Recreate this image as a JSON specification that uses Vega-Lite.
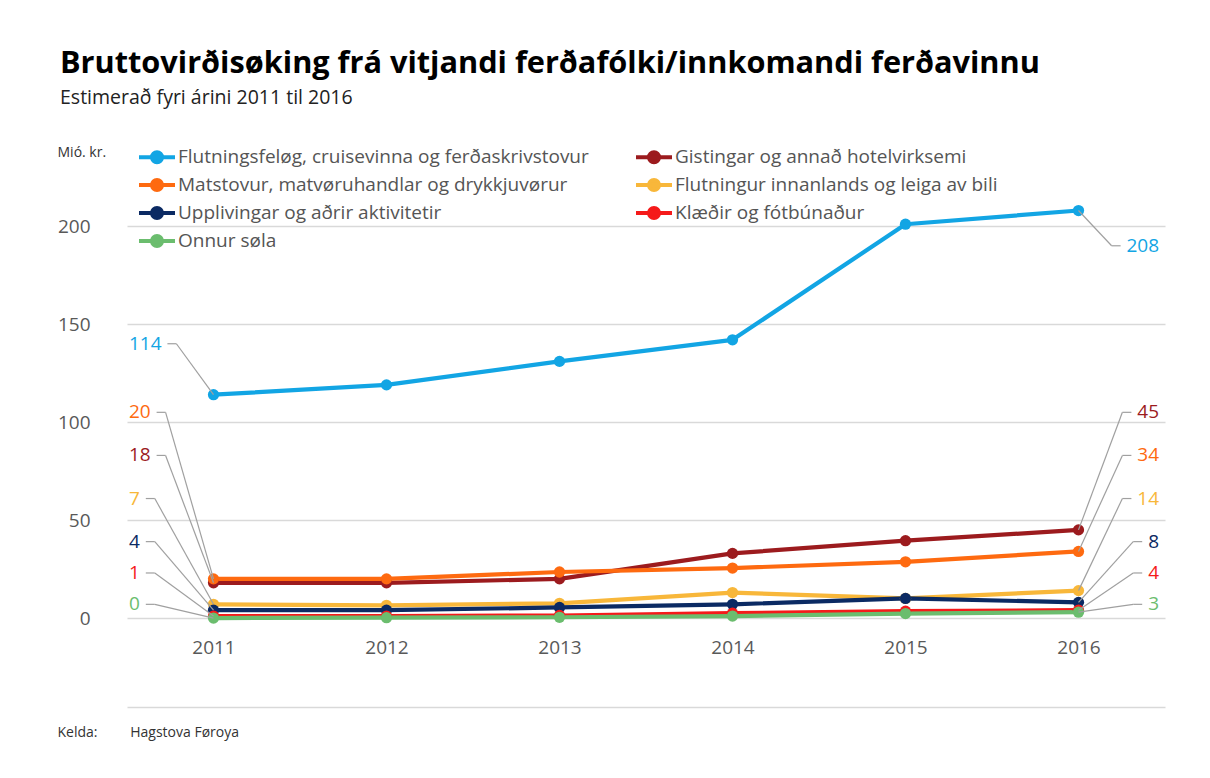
{
  "$schema": "https://vega.github.io/schema/vega-lite/v6.json",
  "autosize": "none",
  "width": 1038,
  "height": 520,
  "padding": {"left": 127, "top": 187, "right": 45, "bottom": 71},
  "background": "white",
  "config": {"view": {"stroke": null}, "font": "Open Sans"},
  "title": {
    "text": "Bruttovirðisøking frá vitjandi ferðafólki/innkomandi ferðavinnu",
    "subtitle": "Estimerað fyri árini 2011 til 2016",
    "anchor": "start",
    "frame": "group",
    "dx": -67,
    "offset": 34.5,
    "font": "Open Sans",
    "fontSize": 30.7,
    "fontWeight": "bold",
    "color": "#000000",
    "subtitleFont": "Open Sans",
    "subtitleFontSize": 19.5,
    "subtitleColor": "#222222",
    "subtitlePadding": 9
  },
  "data": {
    "values": [
      {"series": "Flutningsfeløg, cruisevinna og ferðaskrivstovur", "year": 2011, "value": 114},
      {"series": "Flutningsfeløg, cruisevinna og ferðaskrivstovur", "year": 2012, "value": 119},
      {"series": "Flutningsfeløg, cruisevinna og ferðaskrivstovur", "year": 2013, "value": 131},
      {"series": "Flutningsfeløg, cruisevinna og ferðaskrivstovur", "year": 2014, "value": 142},
      {"series": "Flutningsfeløg, cruisevinna og ferðaskrivstovur", "year": 2015, "value": 201},
      {"series": "Flutningsfeløg, cruisevinna og ferðaskrivstovur", "year": 2016, "value": 208},
      {"series": "Gistingar og annað hotelvirksemi", "year": 2011, "value": 18},
      {"series": "Gistingar og annað hotelvirksemi", "year": 2012, "value": 18},
      {"series": "Gistingar og annað hotelvirksemi", "year": 2013, "value": 20},
      {"series": "Gistingar og annað hotelvirksemi", "year": 2014, "value": 33},
      {"series": "Gistingar og annað hotelvirksemi", "year": 2015, "value": 39.5},
      {"series": "Gistingar og annað hotelvirksemi", "year": 2016, "value": 45},
      {"series": "Matstovur, matvøruhandlar og drykkjuvørur", "year": 2011, "value": 20},
      {"series": "Matstovur, matvøruhandlar og drykkjuvørur", "year": 2012, "value": 20},
      {"series": "Matstovur, matvøruhandlar og drykkjuvørur", "year": 2013, "value": 23.5},
      {"series": "Matstovur, matvøruhandlar og drykkjuvørur", "year": 2014, "value": 25.5},
      {"series": "Matstovur, matvøruhandlar og drykkjuvørur", "year": 2015, "value": 28.7},
      {"series": "Matstovur, matvøruhandlar og drykkjuvørur", "year": 2016, "value": 34},
      {"series": "Flutningur innanlands og leiga av bili", "year": 2011, "value": 7},
      {"series": "Flutningur innanlands og leiga av bili", "year": 2012, "value": 6.5},
      {"series": "Flutningur innanlands og leiga av bili", "year": 2013, "value": 7.5},
      {"series": "Flutningur innanlands og leiga av bili", "year": 2014, "value": 13},
      {"series": "Flutningur innanlands og leiga av bili", "year": 2015, "value": 10},
      {"series": "Flutningur innanlands og leiga av bili", "year": 2016, "value": 14},
      {"series": "Upplivingar og aðrir aktivitetir", "year": 2011, "value": 4},
      {"series": "Upplivingar og aðrir aktivitetir", "year": 2012, "value": 4},
      {"series": "Upplivingar og aðrir aktivitetir", "year": 2013, "value": 5.4},
      {"series": "Upplivingar og aðrir aktivitetir", "year": 2014, "value": 7},
      {"series": "Upplivingar og aðrir aktivitetir", "year": 2015, "value": 10},
      {"series": "Upplivingar og aðrir aktivitetir", "year": 2016, "value": 8},
      {"series": "Klæðir og fótbúnaður", "year": 2011, "value": 1},
      {"series": "Klæðir og fótbúnaður", "year": 2012, "value": 1},
      {"series": "Klæðir og fótbúnaður", "year": 2013, "value": 1.3},
      {"series": "Klæðir og fótbúnaður", "year": 2014, "value": 2.5},
      {"series": "Klæðir og fótbúnaður", "year": 2015, "value": 3.5},
      {"series": "Klæðir og fótbúnaður", "year": 2016, "value": 4},
      {"series": "Onnur søla", "year": 2011, "value": 0},
      {"series": "Onnur søla", "year": 2012, "value": 0.2},
      {"series": "Onnur søla", "year": 2013, "value": 0.4},
      {"series": "Onnur søla", "year": 2014, "value": 1},
      {"series": "Onnur søla", "year": 2015, "value": 2.3},
      {"series": "Onnur søla", "year": 2016, "value": 3}
    ]
  },
  "layer": [
    {
      "mark": {"type": "line", "strokeWidth": 4.2, "strokeCap": "round", "strokeJoin": "round"},
      "encoding": {
        "x": {
          "field": "year", "type": "quantitative",
          "scale": {"domain": [2010.5, 2016.5], "nice": false, "zero": false},
          "axis": {"values": [2011, 2012, 2013, 2014, 2015, 2016], "format": "d", "grid": false, "ticks": false, "domain": false,
                   "offset": -89,
                   "labelFont": "Open Sans", "labelFontSize": 19, "labelColor": "#595959", "labelPadding": 20,
                   "title": "Kelda:\u00a0\u00a0\u00a0\u00a0\u00a0\u00a0\u00a0\u00a0\u00a0Hagstova Føroya",
                   "titleX": -70, "titleY": 114, "titleAlign": "left", "titleBaseline": "middle", "titleAnchor": "start",
                   "titleFont": "Open Sans", "titleFontSize": 14, "titleFontWeight": "normal", "titleColor": "#333333"}
        },
        "y": {
          "field": "value", "type": "quantitative",
          "scale": {"domain": [-45.4, 220], "nice": false, "zero": false},
          "axis": {"values": [-45.4, 0, 50, 100, 150, 200], "labelExpr": "datum.value < 0 ? '' : datum.label",
                   "grid": true, "gridColor": "#d9d9d9", "gridWidth": 1.6, "domain": false, "ticks": false,
                   "labelFont": "Open Sans", "labelFontSize": 19, "labelColor": "#595959", "labelPadding": 37,
                   "title": "Mió. kr.", "titleAngle": 0, "titleX": -70, "titleY": -35, "titleAlign": "left", "titleBaseline": "middle",
                   "titleFont": "Open Sans", "titleFontSize": 14, "titleFontWeight": "normal", "titleColor": "#333333"}
        },
        "color": {
          "field": "series", "type": "nominal",
          "scale": {
            "domain": ["Flutningsfeløg, cruisevinna og ferðaskrivstovur", "Gistingar og annað hotelvirksemi", "Matstovur, matvøruhandlar og drykkjuvørur", "Flutningur innanlands og leiga av bili", "Upplivingar og aðrir aktivitetir", "Klæðir og fótbúnaður", "Onnur søla"],
            "range": ["#12a5e4", "#9c1b1e", "#fe6a10", "#f8b73a", "#0b2a63", "#f51a1a", "#6bbd6e"]
          },
          "legend": {
            "orient": "none", "legendX": 15.5, "legendY": -44.5, "columns": 2, "direction": "horizontal", "title": null,
            "labelFont": "Open Sans", "labelFontSize": 19, "labelColor": "#555555", "labelLimit": 1000, "labelOffset": 6.5,
            "symbolType": "M-1.44,0L1.44,0M-0.4,0A0.4,0.4,0,1,0,0.4,0A0.4,0.4,0,1,0,-0.4,0Z",
            "symbolSize": 625, "symbolStrokeWidth": 4, "rowPadding": 0, "columnPadding": 38, "padding": 0,
            "encode": {"symbols": {"update": {"fill": {"scale": "color", "field": "value"}, "stroke": {"scale": "color", "field": "value"}, "opacity": {"value": 1}}}}
          }
        }
      }
    },
    {
      "mark": {"type": "circle", "size": 127, "opacity": 1},
      "encoding": {
        "x": {"field": "year", "type": "quantitative"},
        "y": {"field": "value", "type": "quantitative"},
        "color": {"field": "series", "type": "nominal", "legend": null}
      }
    },
    {
      "transform": [
        {"filter": "datum.year == 2011 || datum.year == 2016"},
        {"window": [{"op": "row_number", "as": "rk"}], "groupby": ["year"], "sort": [{"field": "value", "order": "ascending"}]},
        {"calculate": "format(datum.value, '.0f')", "as": "label"},
        {"calculate": "length(datum.label)", "as": "len"},
        {"calculate": "datum.rk == 7 ? (datum.year == 2011 ? datum.value + 26 : datum.value - 18) : 7 + (datum.rk - 1) * 16 + max(0, datum.rk - 3) * 6", "as": "ly"},
        {"calculate": "datum.year == 2011 ? 2010.5 + 2 / 173 : 2016.5 - 6 / 173", "as": "tx"},
        {"calculate": "datum.year == 2011 ? datum.tx + (datum.len * 10.8 + 6) / 173 : datum.tx - (datum.len * 10.8 + 6) / 173", "as": "outer"},
        {"calculate": "datum.year == 2011 ? datum.outer + 9 / 173 : datum.outer - 9 / 173", "as": "inner"}
      ],
      "layer": [
        {
          "mark": {"type": "rule", "color": "#a0a0a0", "strokeWidth": 1.2},
          "encoding": {
            "x": {"field": "year", "type": "quantitative"},
            "y": {"field": "value", "type": "quantitative"},
            "x2": {"field": "inner"},
            "y2": {"field": "ly"}
          }
        },
        {
          "mark": {"type": "rule", "color": "#a0a0a0", "strokeWidth": 1.2},
          "encoding": {
            "x": {"field": "outer", "type": "quantitative"},
            "x2": {"field": "inner"},
            "y": {"field": "ly", "type": "quantitative"}
          }
        },
        {
          "transform": [{"filter": "datum.year == 2011"}],
          "mark": {"type": "text", "align": "left", "baseline": "middle", "font": "Open Sans", "fontSize": 19},
          "encoding": {
            "x": {"field": "tx", "type": "quantitative"},
            "y": {"field": "ly", "type": "quantitative"},
            "text": {"field": "label"},
            "color": {"field": "series", "type": "nominal", "legend": null}
          }
        },
        {
          "transform": [{"filter": "datum.year == 2016"}],
          "mark": {"type": "text", "align": "right", "baseline": "middle", "font": "Open Sans", "fontSize": 19},
          "encoding": {
            "x": {"field": "tx", "type": "quantitative"},
            "y": {"field": "ly", "type": "quantitative"},
            "text": {"field": "label"},
            "color": {"field": "series", "type": "nominal", "legend": null}
          }
        }
      ]
    }
  ]
}
